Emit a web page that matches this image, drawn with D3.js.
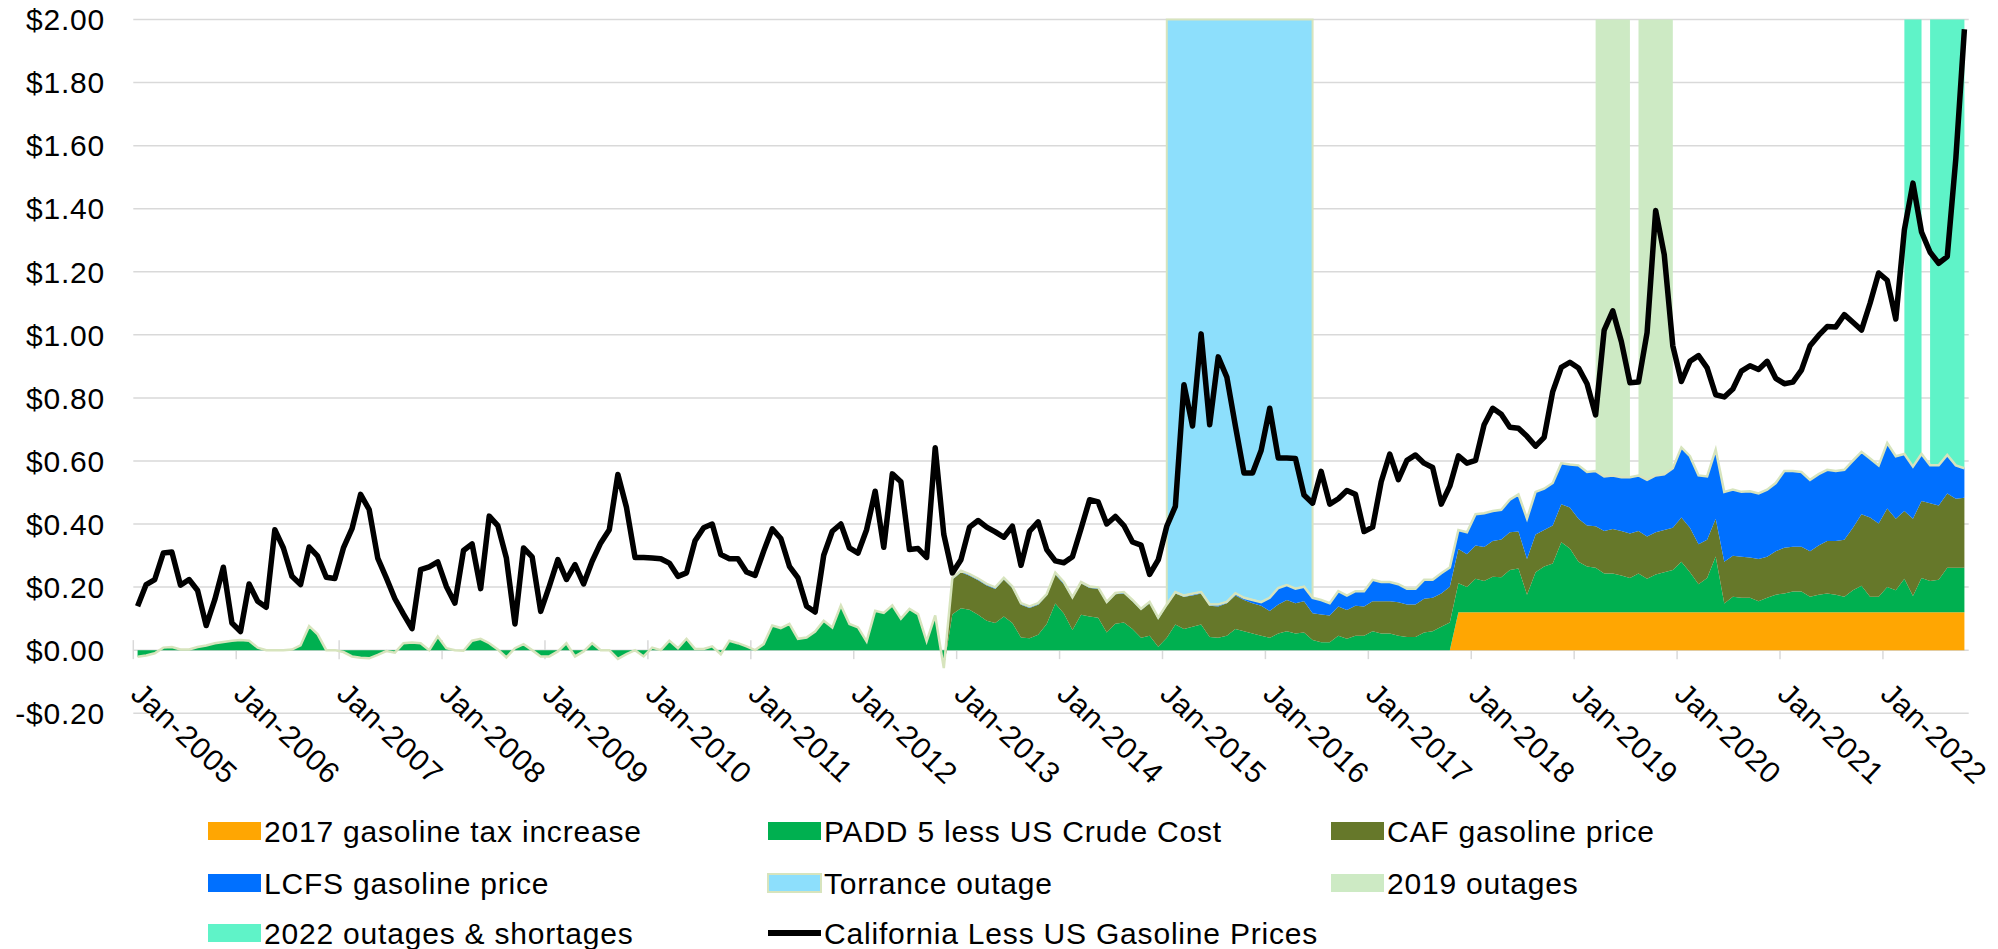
<!DOCTYPE html>
<html>
<head>
<meta charset="utf-8">
<script src="https://cdn.jsdelivr.net/npm/d3@7"></script>
<style>
  body { margin: 0; background: #fff; }
  svg text { font-family: Arial, "Liberation Sans", sans-serif; font-size: 30px; letter-spacing: 0.8px; fill: #000; }
</style>
</head>
<body>
<svg width="1998" height="949"></svg>
<script>
// monthly categories, Jan 2005 - Oct 2022
const months = d3.timeMonths(new Date(2005, 0, 1), new Date(2022, 10, 1));

// California less US gasoline prices ($/gal)
const caLessUs = [
  0.139, 0.208, 0.224, 0.308, 0.311, 0.206, 0.224, 0.189, 0.078, 0.160, 0.263, 0.086,
  0.059, 0.210, 0.155, 0.136, 0.382, 0.324, 0.234, 0.208, 0.327, 0.298, 0.231, 0.227,
  0.324, 0.385, 0.494, 0.446, 0.292, 0.229, 0.163, 0.114, 0.068, 0.255, 0.264, 0.280,
  0.202, 0.149, 0.316, 0.337, 0.195, 0.425, 0.395, 0.292, 0.083, 0.324, 0.296, 0.123,
  0.202, 0.287, 0.224, 0.271, 0.210, 0.282, 0.340, 0.382, 0.557, 0.453, 0.294, 0.294,
  0.292, 0.290, 0.276, 0.234, 0.245, 0.347, 0.388, 0.400, 0.303, 0.290, 0.290, 0.248,
  0.237, 0.314, 0.385, 0.354, 0.266, 0.229, 0.139, 0.121, 0.301, 0.377, 0.400, 0.324,
  0.308, 0.382, 0.504, 0.326, 0.559, 0.534, 0.319, 0.322, 0.294, 0.642, 0.367, 0.245,
  0.287, 0.390, 0.411, 0.390, 0.375, 0.358, 0.393, 0.269, 0.377, 0.407, 0.319, 0.283,
  0.277, 0.296, 0.385, 0.477, 0.470, 0.400, 0.424, 0.395, 0.343, 0.333, 0.240, 0.286,
  0.393, 0.456, 0.842, 0.711, 1.003, 0.715, 0.930, 0.866, 0.711, 0.562, 0.562, 0.633,
  0.767, 0.609, 0.609, 0.608, 0.492, 0.466, 0.567, 0.463, 0.480, 0.506, 0.494, 0.376,
  0.390, 0.534, 0.622, 0.541, 0.602, 0.619, 0.593, 0.579, 0.463, 0.520, 0.616, 0.593,
  0.602, 0.715, 0.767, 0.748, 0.707, 0.704, 0.678, 0.647, 0.675, 0.820, 0.897, 0.913,
  0.895, 0.845, 0.746, 1.015, 1.076, 0.979, 0.848, 0.850, 1.007, 1.394, 1.255, 0.965,
  0.852, 0.916, 0.934, 0.895, 0.810, 0.803, 0.828, 0.885, 0.902, 0.890, 0.916, 0.862,
  0.845, 0.850, 0.888, 0.965, 0.998, 1.026, 1.025, 1.064, 1.040, 1.015, 1.100, 1.196,
  1.173, 1.050, 1.333, 1.481, 1.326, 1.262, 1.227, 1.248, 1.559, 1.969
];

// 2017 gasoline tax increase
const gasTax = [
  0, 0, 0, 0, 0, 0, 0, 0, 0, 0, 0, 0,
  0, 0, 0, 0, 0, 0, 0, 0, 0, 0, 0, 0,
  0, 0, 0, 0, 0, 0, 0, 0, 0, 0, 0, 0,
  0, 0, 0, 0, 0, 0, 0, 0, 0, 0, 0, 0,
  0, 0, 0, 0, 0, 0, 0, 0, 0, 0, 0, 0,
  0, 0, 0, 0, 0, 0, 0, 0, 0, 0, 0, 0,
  0, 0, 0, 0, 0, 0, 0, 0, 0, 0, 0, 0,
  0, 0, 0, 0, 0, 0, 0, 0, 0, 0, 0, 0,
  0, 0, 0, 0, 0, 0, 0, 0, 0, 0, 0, 0,
  0, 0, 0, 0, 0, 0, 0, 0, 0, 0, 0, 0,
  0, 0, 0, 0, 0, 0, 0, 0, 0, 0, 0, 0,
  0, 0, 0, 0, 0, 0, 0, 0, 0, 0, 0, 0,
  0, 0, 0, 0, 0, 0, 0, 0, 0, 0, 0.12, 0.12,
  0.12, 0.12, 0.12, 0.12, 0.12, 0.12, 0.12, 0.12, 0.12, 0.12, 0.12, 0.12,
  0.12, 0.12, 0.12, 0.12, 0.12, 0.12, 0.12, 0.12, 0.12, 0.12, 0.12, 0.12,
  0.12, 0.12, 0.12, 0.12, 0.12, 0.12, 0.12, 0.12, 0.12, 0.12, 0.12, 0.12,
  0.12, 0.12, 0.12, 0.12, 0.12, 0.12, 0.12, 0.12, 0.12, 0.12, 0.12, 0.12,
  0.12, 0.12, 0.12, 0.12, 0.12, 0.12, 0.12, 0.12, 0.12, 0.12
];

// PADD 5 less US crude cost
const padd5 = [
  -0.021, -0.017, -0.010, 0.008, 0.010, 0.002, 0.002, 0.010, 0.015, 0.022, 0.026, 0.030,
  0.032, 0.030, 0.008, 0.000, 0.000, 0.000, 0.002, 0.015, 0.076, 0.050, 0.000, 0.000,
  -0.006, -0.020, -0.024, -0.026, -0.015, -0.003, -0.008, 0.022, 0.024, 0.022, 0.000, 0.043,
  0.006, 0.000, -0.002, 0.030, 0.036, 0.022, 0.002, -0.023, 0.006, 0.019, 0.000, -0.020,
  -0.020, -0.004, 0.022, -0.020, -0.004, 0.022, 0.000, 0.000, -0.028, -0.013, 0.000, -0.020,
  0.008, 0.000, 0.030, 0.006, 0.036, 0.004, 0.004, 0.012, -0.013, 0.030, 0.022, 0.012,
  0.000, 0.019, 0.078, 0.070, 0.083, 0.036, 0.040, 0.059, 0.093, 0.072, 0.142, 0.083,
  0.072, 0.028, 0.125, 0.118, 0.142, 0.100, 0.131, 0.114, 0.028, 0.110, -0.057, 0.114,
  0.133, 0.128, 0.112, 0.093, 0.086, 0.107, 0.086, 0.040, 0.038, 0.049, 0.083, 0.148,
  0.116, 0.064, 0.112, 0.107, 0.103, 0.056, 0.084, 0.088, 0.067, 0.039, 0.046, 0.011,
  0.039, 0.081, 0.067, 0.074, 0.081, 0.042, 0.039, 0.046, 0.067, 0.060, 0.053, 0.046,
  0.039, 0.053, 0.060, 0.053, 0.056, 0.032, 0.025, 0.025, 0.046, 0.036, 0.046, 0.046,
  0.060, 0.053, 0.053, 0.046, 0.042, 0.042, 0.056, 0.060, 0.074, 0.088, 0.092, 0.080,
  0.106, 0.099, 0.113, 0.111, 0.134, 0.139, 0.056, 0.127, 0.145, 0.155, 0.222, 0.202,
  0.160, 0.145, 0.141, 0.123, 0.123, 0.117, 0.109, 0.123, 0.106, 0.120, 0.127, 0.134,
  0.160, 0.127, 0.089, 0.109, 0.177, 0.028, 0.049, 0.046, 0.046, 0.035, 0.046, 0.056,
  0.060, 0.066, 0.066, 0.049, 0.056, 0.060, 0.056, 0.049, 0.070, 0.084, 0.049, 0.049,
  0.080, 0.070, 0.106, 0.052, 0.109, 0.099, 0.103, 0.141, 0.141, 0.141
];

// CAF gasoline price
const caf = [
  0, 0, 0, 0, 0, 0, 0, 0, 0, 0, 0, 0,
  0, 0, 0, 0, 0, 0, 0, 0, 0, 0, 0, 0,
  0, 0, 0, 0, 0, 0, 0, 0, 0, 0, 0, 0,
  0, 0, 0, 0, 0, 0, 0, 0, 0, 0, 0, 0,
  0, 0, 0, 0, 0, 0, 0, 0, 0, 0, 0, 0,
  0, 0, 0, 0, 0, 0, 0, 0, 0, 0, 0, 0,
  0, 0, 0, 0, 0, 0, 0, 0, 0, 0, 0, 0,
  0, 0, 0, 0, 0, 0, 0, 0, 0, 0, 0, 0.110,
  0.114, 0.108, 0.110, 0.112, 0.108, 0.117, 0.111, 0.104, 0.096, 0.095, 0.090, 0.092,
  0.093, 0.100, 0.100, 0.090, 0.092, 0.093, 0.093, 0.092, 0.088, 0.088, 0.103, 0.087,
  0.102, 0.099, 0.102, 0.099, 0.099, 0.099, 0.099, 0.103, 0.106, 0.099, 0.096, 0.095,
  0.085, 0.092, 0.099, 0.096, 0.099, 0.085, 0.088, 0.085, 0.092, 0.091, 0.095, 0.092,
  0.095, 0.102, 0.102, 0.106, 0.103, 0.103, 0.107, 0.106, 0.106, 0.113, 0.109, 0.104,
  0.106, 0.108, 0.113, 0.120, 0.120, 0.117, 0.113, 0.120, 0.116, 0.120, 0.121, 0.130,
  0.137, 0.130, 0.132, 0.135, 0.141, 0.141, 0.141, 0.135, 0.134, 0.134, 0.134, 0.134,
  0.141, 0.141, 0.127, 0.121, 0.120, 0.132, 0.130, 0.130, 0.128, 0.134, 0.130, 0.138,
  0.145, 0.142, 0.142, 0.145, 0.156, 0.166, 0.170, 0.181, 0.198, 0.227, 0.252, 0.233,
  0.249, 0.227, 0.215, 0.245, 0.244, 0.247, 0.236, 0.236, 0.219, 0.222
];

// LCFS gasoline price
const lcfs = [
  0, 0, 0, 0, 0, 0, 0, 0, 0, 0, 0, 0,
  0, 0, 0, 0, 0, 0, 0, 0, 0, 0, 0, 0,
  0, 0, 0, 0, 0, 0, 0, 0, 0, 0, 0, 0,
  0, 0, 0, 0, 0, 0, 0, 0, 0, 0, 0, 0,
  0, 0, 0, 0, 0, 0, 0, 0, 0, 0, 0, 0,
  0, 0, 0, 0, 0, 0, 0, 0, 0, 0, 0, 0,
  0, 0, 0, 0, 0, 0, 0, 0, 0, 0, 0, 0,
  0, 0, 0, 0, 0, 0, 0, 0, 0, 0, 0, 0.005,
  0.005, 0.005, 0.005, 0.005, 0.005, 0.005, 0.005, 0.005, 0.005, 0.005, 0.005, 0.006,
  0.007, 0.004, 0.004, 0.005, 0.004, 0.004, 0.004, 0.004, 0.004, 0.004, 0.004, 0.005,
  0.004, 0.004, 0.004, 0.006, 0.004, 0.004, 0.007, 0.004, 0.007, 0.007, 0.010, 0.011,
  0.042, 0.052, 0.047, 0.046, 0.046, 0.049, 0.046, 0.039, 0.049, 0.046, 0.046, 0.049,
  0.068, 0.061, 0.061, 0.057, 0.050, 0.050, 0.060, 0.057, 0.064, 0.061, 0.060, 0.070,
  0.099, 0.107, 0.095, 0.094, 0.103, 0.118, 0.128, 0.135, 0.131, 0.135, 0.130, 0.137,
  0.169, 0.170, 0.175, 0.173, 0.170, 0.170, 0.178, 0.176, 0.180, 0.180, 0.177, 0.189,
  0.222, 0.227, 0.218, 0.201, 0.219, 0.222, 0.210, 0.206, 0.210, 0.208, 0.213, 0.216,
  0.243, 0.240, 0.237, 0.226, 0.226, 0.226, 0.222, 0.222, 0.213, 0.198, 0.187, 0.184,
  0.208, 0.198, 0.181, 0.165, 0.149, 0.120, 0.127, 0.122, 0.106, 0.094
];

// outage periods (first month, last month)
const torranceOutage = [["2015-01", "2016-06"]];
const outages2019 = [["2019-03", "2019-07"], ["2019-08", "2019-12"]];
const outages2022 = [["2022-03", "2022-05"], ["2022-06", "2022-10"]];

const yTicks = [-0.2, 0, 0.2, 0.4, 0.6, 0.8, 1.0, 1.2, 1.4, 1.6, 1.8, 2.0];

const colors = {
  tax: "#ffa602",
  padd5: "#00b050",
  caf: "#66782a",
  lcfs: "#0070ff",
  torrance: "#8ddffc",
  o2019: "#cdeac4",
  o2022: "#5ff3c8",
  edge: "#d7e4bd",
  grid: "#d9d9d9"
};

const svg = d3.select("svg");

const monthKey = d3.timeFormat("%Y-%m");
const keys = months.map(monthKey);

const x = d3.scaleBand()
  .domain(keys)
  .range([133.3, 1968.7]);
const cx = k => x(k) + x.bandwidth() / 2;

const y = d3.scaleLinear()
  .domain([-0.2, 2.0])
  .range([713.2, 19.5]);

const rows = keys.map((k, i) => ({
  key: k,
  tax: gasTax[i],
  padd5: padd5[i],
  caf: caf[i],
  lcfs: lcfs[i],
  spread: caLessUs[i]
}));

const stacked = d3.stack().keys(["tax", "padd5", "caf", "lcfs"])(rows);
const stackTop = stacked[stacked.length - 1].map(d => d[1]);

// gridlines
svg.append("g")
  .selectAll("line")
  .data(yTicks)
  .enter()
  .append("line")
  .attr("x1", x.range()[0])
  .attr("x2", x.range()[1])
  .attr("y1", d => y(d))
  .attr("y2", d => y(d))
  .attr("stroke", colors.grid)
  .attr("stroke-width", 1.5);

// y labels
svg.append("g")
  .selectAll("text")
  .data(yTicks)
  .enter()
  .append("text")
  .attr("x", 105)
  .attr("y", d => y(d))
  .attr("dy", "0.36em")
  .attr("text-anchor", "end")
  .text(d => (d < 0 ? "-$" : "$") + Math.abs(d).toFixed(2));

// x ticks + labels on January of every year
const janKeys = keys.filter(k => k.endsWith("-01"));
const labelFmt = d3.timeFormat("%b-%Y");
const parseKey = d3.timeParse("%Y-%m");

svg.append("g")
  .selectAll("line")
  .data(janKeys)
  .enter()
  .append("line")
  .attr("x1", d => x(d))
  .attr("x2", d => x(d))
  .attr("y1", y(0) - 10)
  .attr("y2", y(0) + 9)
  .attr("stroke", colors.grid)
  .attr("stroke-width", 1.5);

svg.append("g")
  .selectAll("text")
  .data(janKeys)
  .enter()
  .append("text")
  .attr("transform", d => `translate(${x(d) - 4}, ${y(0) + 46}) rotate(43)`)
  .text(d => labelFmt(parseKey(d)));

// outage bands, from the top of the stack up to the top of the chart
function bandPath(range) {
  const i0 = keys.indexOf(range[0]);
  const i1 = keys.indexOf(range[1]);
  const idx = d3.range(i0, i1 + 1);
  return d3.area()
    .x(i => cx(keys[i]))
    .y0(i => y(stackTop[i]))
    .y1(y(2.0))(idx);
}

svg.append("g")
  .selectAll("path")
  .data(torranceOutage)
  .enter()
  .append("path")
  .attr("d", bandPath)
  .attr("fill", colors.torrance)
  .attr("stroke", colors.edge)
  .attr("stroke-width", 2);

svg.append("g")
  .selectAll("path")
  .data(outages2019)
  .enter()
  .append("path")
  .attr("d", bandPath)
  .attr("fill", colors.o2019);

svg.append("g")
  .selectAll("path")
  .data(outages2022)
  .enter()
  .append("path")
  .attr("d", bandPath)
  .attr("fill", colors.o2022);

// stacked areas
const area = d3.area()
  .x(d => cx(d.data.key))
  .y0(d => y(d[0]))
  .y1(d => y(d[1]));

svg.append("g")
  .selectAll("path")
  .data(stacked)
  .enter()
  .append("path")
  .attr("d", area)
  .attr("fill", d => colors[d.key]);

// pale outline along the top of the stack
svg.append("path")
  .attr("d", d3.line().x((d, i) => cx(keys[i])).y(d => y(d))(stackTop))
  .attr("fill", "none")
  .attr("stroke", colors.edge)
  .attr("stroke-width", 2.5);

// California less US line
svg.append("path")
  .attr("d", d3.line().x(d => cx(d.key)).y(d => y(d.spread))(rows))
  .attr("fill", "none")
  .attr("stroke", "#000")
  .attr("stroke-width", 5.5)
  .attr("stroke-linejoin", "round");

// legend
const legendItems = [
  { label: "2017 gasoline tax increase", color: colors.tax },
  { label: "PADD 5 less US Crude Cost", color: colors.padd5 },
  { label: "CAF gasoline price", color: colors.caf },
  { label: "LCFS gasoline price", color: colors.lcfs },
  { label: "Torrance outage", color: colors.torrance, edge: colors.edge },
  { label: "2019 outages", color: colors.o2019 },
  { label: "2022 outages & shortages", color: colors.o2022 },
  { label: "California Less US Gasoline Prices", line: true }
];
const legendCols = [208, 768, 1331];
const legendRows = [831, 883, 933];

const lg = svg.append("g")
  .selectAll("g")
  .data(legendItems)
  .enter()
  .append("g")
  .attr("transform", (d, i) => `translate(${legendCols[i % 3]}, ${legendRows[Math.floor(i / 3)]})`);

lg.filter(d => !d.line)
  .append("rect")
  .attr("x", 0)
  .attr("y", -9)
  .attr("width", 53)
  .attr("height", 18)
  .attr("fill", d => d.color)
  .attr("stroke", d => d.edge || "none")
  .attr("stroke-width", 2);

lg.filter(d => d.line)
  .append("line")
  .attr("x1", 0)
  .attr("x2", 53)
  .attr("y1", 0)
  .attr("y2", 0)
  .attr("stroke", "#000")
  .attr("stroke-width", 6);

lg.append("text")
  .attr("x", 56)
  .attr("dy", "0.36em")
  .text(d => d.label);
</script>
</body>
</html>
